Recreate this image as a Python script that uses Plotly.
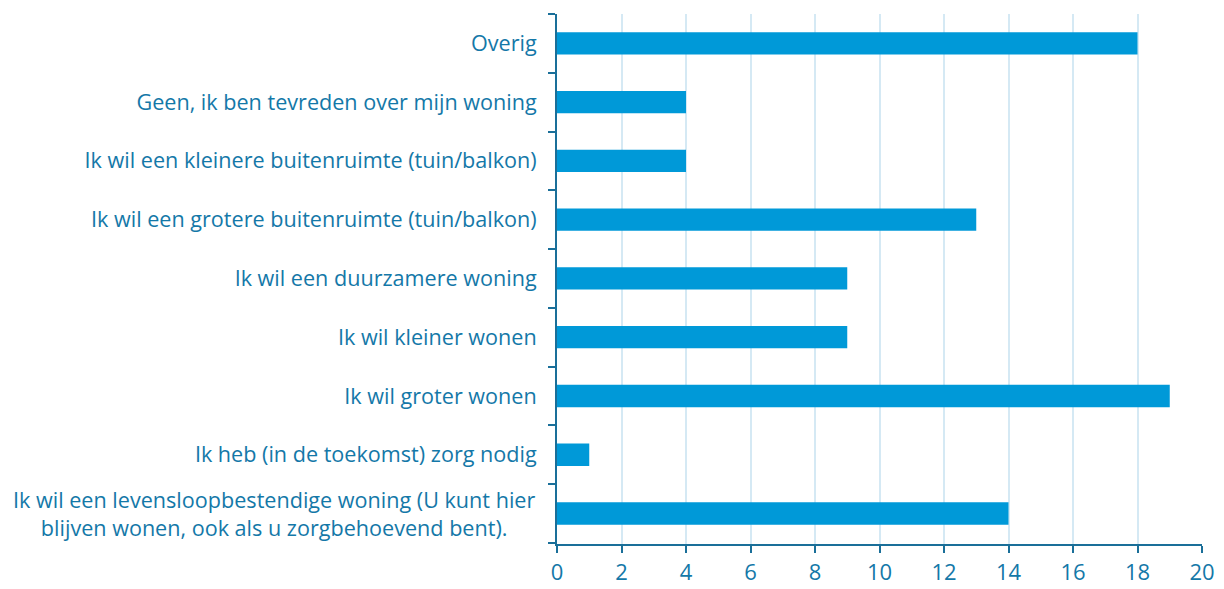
import plotly.graph_objects as go

categories = [
    "Ik wil een levensloopbestendige woning (U kunt hier<br>blijven wonen, ook als u zorgbehoevend bent).",
    "Ik heb (in de toekomst) zorg nodig",
    "Ik wil groter wonen",
    "Ik wil kleiner wonen",
    "Ik wil een duurzamere woning",
    "Ik wil een grotere buitenruimte (tuin/balkon)",
    "Ik wil een kleinere buitenruimte (tuin/balkon)",
    "Geen, ik ben tevreden over mijn woning",
    "Overig",
]
values = [14, 1, 19, 9, 9, 13, 4, 4, 18]
x_ticks = [0, 2, 4, 6, 8, 10, 12, 14, 16, 18, 20]

TEXT = "#1478a8"
AXIS = "#1a6f99"
BAR = "#0099d8"
GRID = "#d5e9f4"
FONT = "Open Sans"
LSIZE = 21.6

fig = go.Figure(go.Bar(
    x=values, y=categories, orientation="h",
    marker=dict(color=BAR, line=dict(width=0)),
    width=0.38,
))

# multi-line label centered: draw as annotation
ticktext = [("" if "<br>" in c else c) for c in categories]
fig.add_annotation(
    x=0, y=categories[0], xref="paper", yref="y",
    text=categories[0], showarrow=False, xanchor="right", yanchor="middle",
    align="center", xshift=-20, font=dict(family=FONT, size=LSIZE, color=TEXT),
)

fig.update_layout(
    width=1224, height=589,
    margin=dict(l=557, r=22, t=14, b=45, autoexpand=False),
    paper_bgcolor="white", plot_bgcolor="white",
    showlegend=False,
    bargap=0.62,
    font=dict(family=FONT, size=LSIZE, color=TEXT),
)
fig.update_xaxes(
    range=[0, 20], tickvals=x_ticks, ticks="outside", ticklen=7, tickwidth=2,
    tickcolor=AXIS, showline=True, linecolor=AXIS, linewidth=2,
    showgrid=True, gridcolor=GRID, gridwidth=2, zeroline=False,
    ticklabelstandoff=1, automargin=False,
    tickfont=dict(family=FONT, size=22, color=TEXT),
)
fig.update_yaxes(
    categoryorder="array", categoryarray=categories,
    tickvals=categories, ticktext=ticktext,
    tickson="boundaries", ticks="outside", ticklen=7, tickwidth=2, tickcolor=AXIS,
    showline=True, linecolor=AXIS, linewidth=2, showgrid=False,
    ticklabelstandoff=14, automargin=False,
    tickfont=dict(family=FONT, size=LSIZE, color=TEXT),
)

fig.write_html(
    "out.html",
    config={"displayModeBar": False},
    post_script="document.body.style.margin='0';document.documentElement.style.overflow='hidden';document.body.style.overflow='hidden';",
)
